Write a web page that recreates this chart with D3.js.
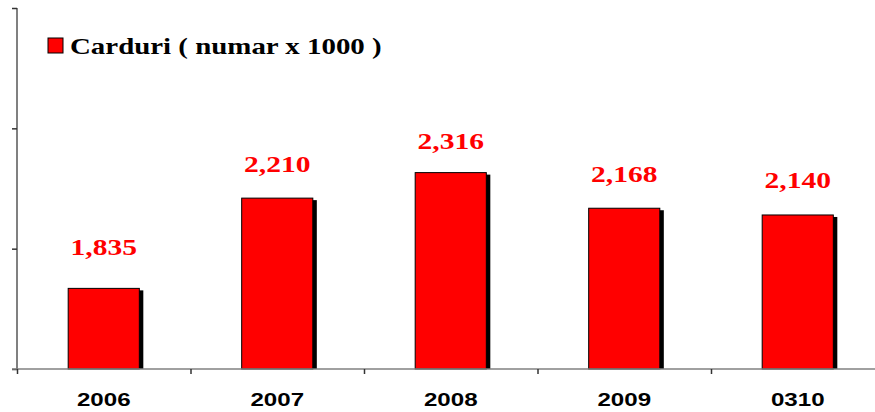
<!DOCTYPE html>
<html><head><meta charset="utf-8">
<script src="https://cdn.jsdelivr.net/npm/d3@7"></script>
<style>html,body{margin:0;padding:0;background:#fff;overflow:hidden}</style>
</head><body>
<svg id="c" width="875" height="412"></svg>
<script>
const categories = ["2006", "2007", "2008", "2009", "0310"];
const values = [1835, 2210, 2316, 2168, 2140];
const valueLabels = ["1,835", "2,210", "2,316", "2,168", "2,140"];
const yTicks = [1500, 2000, 2500, 3000];
const legendLabel = "Carduri ( numar x 1000 )";

const svg = d3.select("#c");
const mLeft = 17, mTop = 8, mBottom = 369, step = 173.5;
const mRight = mLeft + step * categories.length;

const y = d3.scaleLinear().domain([1500, 3000]).range([mBottom, mTop]);
const x = d3.scaleBand().domain(categories).range([mLeft, mRight]).paddingInner(0.59).paddingOuter(0.295);
const xb = d3.scaleLinear().domain([0, categories.length]).range([mLeft, mRight]);
// label placement scale (labels sit a bit higher above the shorter bars)
const ly = d3.scaleLinear().domain([1835, 2316]).range([256, 150]);

const serif = '"Liberation Serif", "Times New Roman", serif';
const sans = '"Liberation Sans", Arial, sans-serif';

const g = svg.append("g");
g.selectAll("rect.sh").data(values).join("rect").attr("class","sh")
  .attr("x", (d,i) => x(categories[i]) + 4)
  .attr("y", d => y(d) + 2)
  .attr("width", x.bandwidth())
  .attr("height", d => mBottom - y(d) - 2)
  .attr("fill", "#000");
g.selectAll("rect.bar").data(values).join("rect").attr("class","bar")
  .attr("x", (d,i) => x(categories[i]))
  .attr("y", d => y(d))
  .attr("width", x.bandwidth())
  .attr("height", d => mBottom - y(d))
  .attr("fill", "#ff0000").attr("stroke", "#000").attr("stroke-width", 1);

const ya = svg.append("g").attr("transform", `translate(${mLeft},0)`)
  .call(d3.axisLeft(y).tickValues(yTicks).tickSize(5).tickFormat(""));
ya.select(".domain").attr("stroke", "#808080").attr("stroke-width", 2).attr("d", `M0,${mTop}V${mBottom}`);
ya.selectAll(".tick line").attr("stroke", "#333").attr("stroke-width", 1.5);

const xa = svg.append("g").attr("transform", `translate(0,${mBottom})`)
  .call(d3.axisBottom(xb).tickValues(d3.range(categories.length + 1)).tickSize(5).tickFormat(""));
xa.select(".domain").attr("stroke", "#808080").attr("stroke-width", 1.5).attr("d", `M${mLeft-5},0H${mRight}`);
xa.selectAll(".tick line").attr("stroke", "#333").attr("stroke-width", 1.5);

svg.selectAll("text.cat").data(categories).join("text").attr("class","cat")
  .attr("transform", d => `translate(${x(d) + x.bandwidth()/2},406) scale(1.27,1)`)
  .attr("text-anchor", "middle")
  .style("font-family", sans).style("font-weight", "bold").style("font-size", "19px")
  .attr("fill", "#000").text(d => d);

svg.selectAll("text.val").data(values).join("text").attr("class","val")
  .attr("transform", (d,i) => `translate(${x(categories[i]) + x.bandwidth()/2},${ly(d) - 1}) scale(1.23,1)`)
  .attr("text-anchor", "middle")
  .style("font-family", serif).style("font-weight", "bold").style("font-size", "24px")
  .attr("fill", "#ff0000").text((d,i) => valueLabels[i]);

svg.append("rect").attr("x", 48).attr("y", 38).attr("width", 15).attr("height", 15)
  .attr("fill", "#ff0000").attr("stroke", "#000").attr("stroke-width", 1);
svg.append("text").attr("transform", "translate(70,54) scale(1.23,1)")
  .style("font-family", serif).style("font-weight", "bold").style("font-size", "23.5px")
  .attr("fill", "#000").text(legendLabel);
</script>
</body></html>
